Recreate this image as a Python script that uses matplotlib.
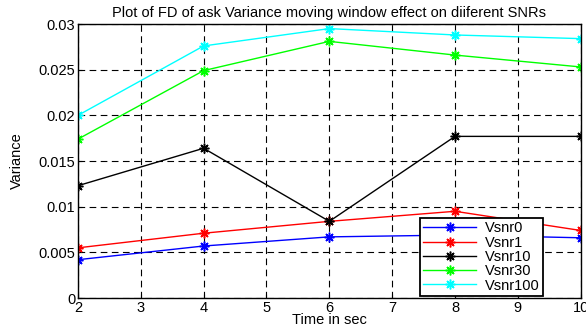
import matplotlib
matplotlib.use('Agg')
import matplotlib.pyplot as plt

# window length in seconds
t = [2, 4, 6, 8, 10]
vsnr0 = [0.0042, 0.0057, 0.0067, 0.0069, 0.0066]
vsnr1 = [0.0055, 0.0071, 0.0084, 0.0095, 0.0074]
vsnr10 = [0.0123, 0.0164, 0.0084, 0.0177, 0.0177]
vsnr30 = [0.0174, 0.0249, 0.0281, 0.0266, 0.0253]
vsnr100 = [0.0200, 0.0276, 0.0295, 0.0288, 0.0284]
labels = ['Vsnr0', 'Vsnr1', 'Vsnr10', 'Vsnr30', 'Vsnr100']
colors = ['#0000ff', '#ff0000', '#000000', '#00ff00', '#00ffff']

plt.rcParams['font.family'] = ['Liberation Sans', 'DejaVu Sans']
fs = 10.5

fig = plt.figure(figsize=(5.86, 3.29), dpi=100)
ax = fig.add_axes([0.133, 0.094, 0.858, 0.833])

# matlab style '*' marker: 8 spoke asterisk
ast = (8, 2, 0)
for ys, lab, c in zip([vsnr0, vsnr1, vsnr10, vsnr30, vsnr100], labels, colors):
    ax.plot(t, ys, color=c, marker=ast, markersize=7, markeredgewidth=1.1,
            linewidth=1, label=lab)

ax.set_xlim(2, 10)
ax.set_ylim(0, 0.03)
ax.set_xticks(range(2, 11))
ax.set_yticks([0, 0.005, 0.01, 0.015, 0.02, 0.025, 0.03])
ax.set_yticklabels(['0', '0.005', '0.01', '0.015', '0.02', '0.025', '0.03'])
ax.grid(True, color='black', linestyle=(0, (6, 4)), linewidth=0.8)
ax.tick_params(labelsize=fs, direction='in', length=3, pad=2)
for s in ax.spines.values():
    s.set_linewidth(1)

ax.set_title('Plot of FD of ask Variance moving window effect on diiferent SNRs', fontsize=fs, pad=5)
ax.set_xlabel('Time in sec', fontsize=fs, labelpad=-1)
ax.set_ylabel('Variance', fontsize=fs, labelpad=10)

leg = ax.legend(loc='lower right', bbox_to_anchor=(0.925, 0.007), borderaxespad=0,
                fontsize=fs, fancybox=False, framealpha=1, edgecolor='black',
                handlelength=3.6, borderpad=0.25, labelspacing=0.02, handletextpad=0.6)
leg.get_frame().set_linewidth(1.3)

fig.savefig('out.png', dpi=100)
